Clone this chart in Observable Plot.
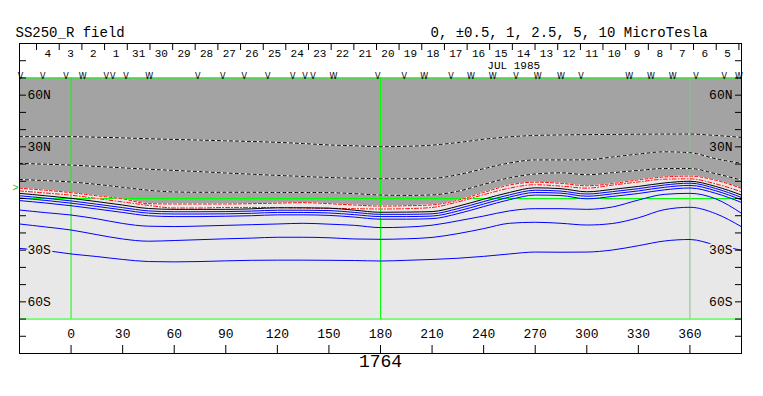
<!DOCTYPE html>
<html><head><meta charset="utf-8">
<script src="https://cdn.jsdelivr.net/npm/d3@7"></script>
<script src="https://cdn.jsdelivr.net/npm/@observablehq/plot@0.6"></script>
<style>body{margin:0;background:#fff} svg{display:block}</style>
</head><body><div id="chart"></div>
<script>
// Carrington longitude sample points (deg)
const lons = [-30,-15,0,15,30,45,60,75,90,105,120,135,150,165,180,195,210,225,240,255,270,285,300,315,330,345,360,375,390];
// Positive-field contours (black/white dashed), top to bottom (latitude, deg)
const dash1 = [35.9,35.9,35.9,35.6,35.2,34.7,34.3,33.9,33.5,33.1,32.6,31.9,31.1,30.6,30.1,30.3,31.0,32.5,34.4,35.8,36.6,36.9,37.1,37.2,37.3,37.4,37.4,36.6,35.5];
const dash2 = [20.4,19.9,19.4,18.6,17.8,17.0,16.3,15.6,14.8,14.1,13.4,12.8,12.2,11.8,11.5,11.5,11.7,13.8,17.3,20.6,22.4,22.4,22.5,24.1,25.8,27.1,26.6,23.1,20.4];
const dash3 = [11.0,10.4,9.6,8.2,6.5,4.8,3.8,3.6,3.6,3.6,3.5,3.5,3.4,2.8,2.0,1.8,2.1,4.2,8.2,12.0,14.2,14.9,13.8,15.0,16.3,17.4,17.4,14.4,10.7];
// Red dashed contours (±0.5)
const red1 = [6.0,4.8,3.4,1.6,-0.2,-3.0,-3.2,-3.2,-3.2,-3.0,-2.7,-2.4,-3.0,-3.8,-4.4,-4.2,-3.7,-1.0,3.5,7.8,9.5,8.8,7.4,8.7,10.8,12.5,13.0,10.6,5.9];
const red2 = [4.4,3.2,1.9,0.0,-2.0,-4.0,-5.5,-5.5,-5.2,-5.2,-5.3,-5.5,-5.7,-5.9,-6.1,-5.9,-5.2,-2.0,2.2,6.0,8.0,7.2,6.0,7.8,9.6,11.2,11.4,8.5,3.9];
// Neutral line (black solid)
const neutral = [3.0,1.6,0.1,-1.8,-3.8,-5.8,-6.3,-6.3,-6.3,-6.0,-5.4,-5.4,-5.6,-6.8,-8.0,-7.9,-7.6,-4.5,-0.4,3.5,6.2,5.7,3.9,5.3,7.0,9.0,10.0,7.0,2.0];
// Negative-field contours (blue), top to bottom
const blue1 = [1.6,0.2,-1.4,-3.3,-5.3,-7.2,-7.7,-7.7,-7.6,-7.3,-6.8,-6.8,-7.0,-8.1,-9.2,-9.2,-8.9,-5.9,-1.8,2.1,4.8,4.3,2.6,4.0,5.7,7.8,8.9,5.8,0.6];
const blue2 = [0.3,-1.1,-2.7,-4.6,-6.6,-8.5,-9.0,-9.0,-8.9,-8.6,-8.1,-8.1,-8.4,-9.4,-10.5,-10.5,-10.2,-7.3,-3.2,0.8,3.5,3.1,1.3,2.7,4.4,6.5,7.6,4.5,-0.8];
const blue3 = [-1.2,-2.6,-4.2,-6.1,-8.1,-10.0,-10.5,-10.5,-10.3,-10.0,-9.5,-9.5,-9.8,-10.8,-12.0,-12.0,-11.7,-8.8,-4.7,-0.7,2.0,1.7,-0.2,1.2,2.9,5.0,6.1,3.0,-2.3];
const blue4 = [-6.7,-8.2,-9.6,-11.8,-14.5,-16.1,-16.3,-16.0,-15.6,-15.2,-14.8,-14.4,-14.9,-15.6,-16.9,-16.6,-15.5,-13.0,-10.2,-7.2,-5.9,-5.9,-6.3,-4.9,-0.9,2.4,3.0,-0.2,-8.6];
const blue5 = [-14.8,-16.5,-18.3,-21.0,-23.5,-24.8,-24.4,-23.9,-23.4,-23.0,-22.5,-22.5,-22.8,-23.5,-23.7,-23.4,-22.6,-20.4,-17.5,-14.4,-13.8,-14.4,-15.4,-14.5,-11.2,-6.5,-5.1,-8.8,-16.4];
const blue6 = [-29.0,-30.2,-32.2,-33.7,-35.4,-36.6,-36.8,-36.6,-36.2,-35.9,-35.8,-35.8,-35.9,-36.0,-36.3,-35.9,-35.4,-34.7,-33.6,-32.2,-31.1,-31.2,-31.1,-29.9,-27.4,-24.7,-23.8,-27.0,-30.0];

// Axis ticks and labels
const xTicks = [0,30,60,90,120,150,180,210,240,270,300,330,360];
const latTicks = [-80,-70,-60,-50,-40,-30,-20,-10,0,10,20,30,40,50,60,70,80];
const latLabelVals = [60,30,-30,-60];
const latLabelText = ["60N","30N","30S","60S"];
const greenLats = [70,0,-70];
const greenLons = [0,180];
const greyLons = [360];
const mapLatMax = 70;
const mapLatMin = -70;
// Day boundaries and day labels (top band)
const dayTicks = [-20.1,-6.9,6.3,19.5,32.7,45.9,59.1,72.2,85.4,98.6,111.8,124.9,138.1,151.3,164.5,177.7,190.8,204.0,217.2,230.4,243.5,256.7,269.9,283.1,296.3,309.4,322.6,335.8,349.0,362.1,375.3,388.5];
const dayLabelLons = [-13.5,-0.3,12.9,26.1,39.3,52.5,65.7,78.8,92.0,105.2,118.4,131.5,144.7,157.9,171.1,184.3,197.4,210.6,223.8,237.0,250.1,263.3,276.5,289.7,302.9,316.0,329.2,342.4,355.6,368.7,381.9];
const dayLabels = ["4","3","2","1","31","30","29","28","27","26","25","24","23","22","21","20","19","18","17","16","15","14","13","12","11","10","9","8","7","6","5"];
const monthLabel = [{lon: 257.5, text: "JUL 1985"}];
// markers along the top of the map ("W" = two overlapping V's)
const markerLons = [-29.5,-16.5,-2.9,6.7,20.4,24.3,32.0,45.5,73.7,88.2,100.8,114.4,128.9,136.1,140.7,152.6,178.4,193.8,205.4,221.0,232.6,245.2,258.8,271.4,285.0,296.6,324.7,337.3,350.0,363.5,380.0,388.5];
const markerGlyphs = ["V","V","V","W","V","V","V","W","V","V","V","V","V","V","V","W","V","V","W","V","W","W","V","W","W","V","W","W","W","V","V","W"];
const earthLat = [6.3];
const titleLeft = "SS250_R field";
const titleRight = "0, \u00B10.5, 1, 2.5, 5, 10 MicroTesla";
const rotation = "1764";

const rows = lons.map((lon, i) => ({
  lon, dash1: dash1[i], dash2: dash2[i], dash3: dash3[i], red1: red1[i], red2: red2[i],
  neutral: neutral[i], blue1: blue1[i], blue2: blue2[i], blue3: blue3[i],
  blue4: blue4[i], blue5: blue5[i], blue6: blue6[i]
}));

const curve = "monotone-x";
const font = "Liberation Mono";
const dark = "#a3a3a3", light = "#e8e8e8";

const dashedLine = (key, color, dash) => [
  Plot.line(rows, {x: "lon", y: key, stroke: "white", strokeWidth: 1, curve}),
  Plot.line(rows, {x: "lon", y: key, stroke: color, strokeWidth: 1, strokeDasharray: dash, curve})
];
const solid = (key, color) => Plot.line(rows, {x: "lon", y: key, stroke: color, strokeWidth: 1, curve});

const chart = Plot.plot({
  width: 763, height: 396,
  marginLeft: 19, marginRight: 22, marginTop: 43, marginBottom: 43,
  x: {domain: [-30, 390]},
  y: {domain: [-90, 90]},
  style: {fontFamily: font, background: "white", color: "black"},
  marks: [
    Plot.areaY(rows, {x: "lon", y1: () => mapLatMin, y2: "red1", fill: light, curve}),
    Plot.areaY(rows, {x: "lon", y1: "red1", y2: () => mapLatMax, fill: dark, curve}),
    Plot.ruleY(greenLats, {stroke: "#00ff00", strokeWidth: 1}),
    Plot.ruleX(greenLons, {y1: mapLatMin, y2: mapLatMax, stroke: "#00ff00", strokeWidth: 1}),
    Plot.ruleX(greyLons, {y1: mapLatMin, y2: mapLatMax, stroke: "#7fc97f", strokeWidth: 1}),
    ...dashedLine("dash1", "black", "3,3"),
    ...dashedLine("dash2", "black", "3,3"),
    ...dashedLine("dash3", "black", "3,3"),
    ...dashedLine("red1", "#ff0000", "3,2"),
    ...dashedLine("red2", "#ff0000", "4,2,1,2"),
    solid("blue6", "#0000ff"),
    solid("blue5", "#0000ff"),
    solid("blue4", "#0000ff"),
    solid("blue3", "#0000ff"),
    solid("blue2", "#0000ff"),
    solid("blue1", "#0000ff"),
    solid("neutral", "black"),
    // latitude labels (left and right, inside the frame)
    Plot.text(latLabelVals, {y: d => d, text: (d, i) => latLabelText[i], frameAnchor: "left", dx: 8, textAnchor: "start",
      fontSize: 13, fill: "black", stroke: d => d > 0 ? dark : light, strokeWidth: 4, paintOrder: "stroke"}),
    Plot.text(latLabelVals, {y: d => d, text: (d, i) => latLabelText[i], frameAnchor: "right", dx: -9, textAnchor: "end",
      fontSize: 13, fill: "black", stroke: d => d > 0 ? dark : light, strokeWidth: 4, paintOrder: "stroke"}),
    Plot.axisY({ticks: latTicks, anchor: "left", tickSize: -7, tickFormat: () => "", label: null}),
    Plot.axisY({ticks: latTicks, anchor: "right", tickSize: -7, tickFormat: () => "", label: null}),
    // bottom longitude axis
    Plot.axisX({ticks: xTicks, anchor: "bottom", tickSize: -8, tickFormat: () => "", label: null}),
    Plot.text(xTicks, {x: d => d, text: d => String(d), frameAnchor: "bottom", dy: -16, fontSize: 13, fill: "black"}),
    // top day band
    Plot.axisX({ticks: dayTicks, anchor: "top", tickSize: -6, tickFormat: () => "", label: null}),
    Plot.text(dayLabelLons, {x: d => d, text: (d, i) => dayLabels[i], frameAnchor: "top", dy: 6, fontSize: 11, fill: "black"}),
    Plot.text(monthLabel, {x: "lon", text: "text", frameAnchor: "top", dy: 17.5, fontSize: 11, fill: "black"}),
    Plot.text(markerLons, {x: d => d, text: (d, i) => markerGlyphs[i], frameAnchor: "top", dy: 35.5, lineAnchor: "bottom", fontSize: 8, fontFamily: "DejaVu Sans", fill: "black"}),
    Plot.text(earthLat, {y: d => d, text: () => ">", frameAnchor: "left", dx: -1, textAnchor: "end", fontSize: 10, fill: "#00cc00"}),
    Plot.frame({stroke: "black"}),
    // titles
    Plot.text([titleLeft], {frameAnchor: "top-left", dx: -4, dy: -16, textAnchor: "start", fontSize: 14, fill: "black"}),
    Plot.text([titleRight], {frameAnchor: "top-left", dx: 411, dy: -16, textAnchor: "start", fontSize: 14, fill: "black"}),
    Plot.text([rotation], {frameAnchor: "bottom", dy: 13, fontSize: 18, fill: "black"})
  ]
});
document.getElementById("chart").appendChild(chart);
</script>
</body></html>
